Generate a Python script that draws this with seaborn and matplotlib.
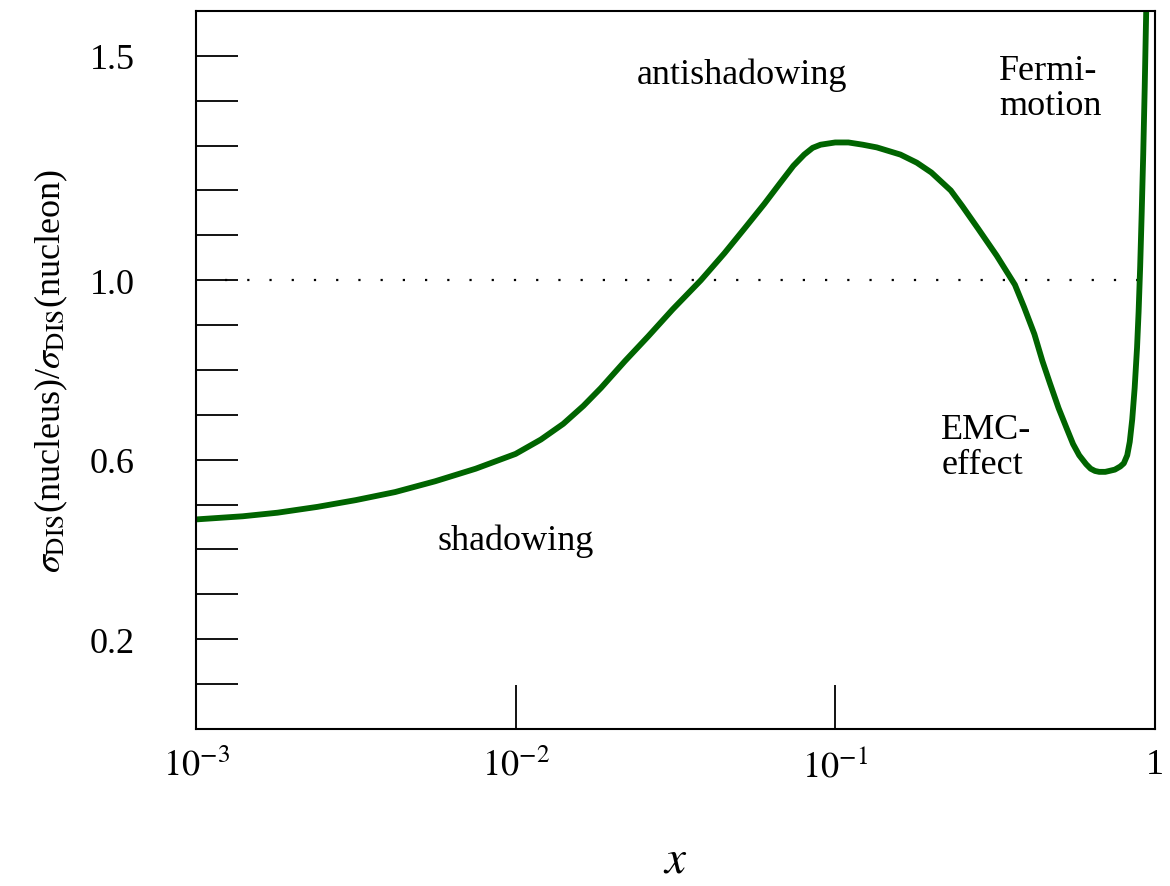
import numpy as np
import seaborn as sns
import matplotlib.pyplot as plt
import pandas as pd
from matplotlib.ticker import FixedLocator, NullLocator

# values
x_vals = [0.001, 0.0014, 0.0018, 0.0024, 0.00316, 0.0042, 0.0056, 0.0075, 0.01, 0.012,
          0.0141, 0.0163, 0.0185, 0.022, 0.026, 0.031, 0.038, 0.045, 0.052, 0.06,
          0.067, 0.074, 0.08, 0.085, 0.09, 0.1, 0.11, 0.122, 0.135, 0.16, 0.18, 0.2,
          0.23, 0.25, 0.28, 0.32, 0.365, 0.39, 0.42, 0.445, 0.47, 0.5, 0.53, 0.555,
          0.58, 0.61, 0.63, 0.65, 0.67, 0.7, 0.72, 0.75, 0.78, 0.8, 0.82, 0.835,
          0.85, 0.865, 0.88, 0.89, 0.9, 0.91, 0.92, 0.93, 0.94]
ratio = [0.467, 0.474, 0.482, 0.495, 0.51, 0.528, 0.552, 0.58, 0.613, 0.645,
         0.68, 0.72, 0.76, 0.82, 0.875, 0.935, 1.0, 1.06, 1.115, 1.17,
         1.215, 1.255, 1.28, 1.295, 1.302, 1.307, 1.307, 1.302, 1.296, 1.28, 1.262, 1.24,
         1.2, 1.165, 1.115, 1.055, 0.99, 0.94, 0.88, 0.82, 0.77, 0.715, 0.67, 0.635,
         0.61, 0.59, 0.58, 0.575, 0.573, 0.573, 0.575, 0.578, 0.585, 0.592, 0.61, 0.64,
         0.69, 0.76, 0.85, 0.93, 1.03, 1.15, 1.28, 1.43, 1.6]

df = pd.DataFrame({"x": x_vals, "r": ratio})

sns.set_style("ticks")
plt.rcParams['font.family'] = ['Liberation Serif', 'DejaVu Serif']
plt.rcParams['mathtext.fontset'] = 'stix'
plt.rcParams['text.color'] = 'black'
plt.rcParams['xtick.color'] = 'black'
plt.rcParams['ytick.color'] = 'black'
plt.rcParams['axes.labelcolor'] = 'black'
plt.rcParams['axes.edgecolor'] = 'black'

fig = plt.figure(figsize=(11.7, 8.87), dpi=100)
ax = fig.add_axes([0.1675, 0.177, 0.8195, 0.8095])

ax.axhline(1.0, xmin=0.03, color='black', ls=(0, (1, 9)), lw=1.6)
sns.lineplot(data=df, x="x", y="r", ax=ax, color='#006400', lw=4.2)

ax.set_xscale('log')
ax.set_xlim(1e-3, 1)
ax.set_ylim(0, 1.6)
ax.xaxis.set_major_locator(FixedLocator([1e-3, 1e-2, 1e-1, 1]))
ax.xaxis.set_minor_locator(NullLocator())
ax.set_xticklabels([r'$10^{-3}$', r'$10^{-2}$', r'$10^{-1}$', '1'])
ax.yaxis.set_major_locator(FixedLocator([0.2, 0.6, 1.0, 1.5]))
ax.yaxis.set_minor_locator(FixedLocator(np.arange(0.1, 1.61, 0.1)))
ax.set_yticklabels(['0.2', '0.6', '1.0', '1.5'])

ax.tick_params(axis='x', which='major', direction='in', length=32, width=1.3,
               labelsize=26, pad=14, top=False)
ax.tick_params(axis='y', which='major', direction='in', length=30, width=1.3,
               labelsize=26, pad=44, right=False)
ax.tick_params(axis='y', which='minor', direction='in', length=30, width=1.3, right=False)
for s in ax.spines.values():
    s.set_linewidth(1.5)

ax.set_xlabel(r'$x$', fontsize=34, labelpad=40)
ax.set_ylabel(r'$\sigma_{\rm DIS}$(nucleus)/$\sigma_{\rm DIS}$(nucleon)', fontsize=26, labelpad=14)

ax.text(0.0057, 0.4, 'shadowing', fontsize=26)
ax.text(0.024, 1.44, 'antishadowing', fontsize=26)
ax.text(0.215, 0.57, 'EMC-\neffect', fontsize=26, linespacing=1.1)
ax.text(0.325, 1.37, 'Fermi-\nmotion', fontsize=26, linespacing=1.1)

fig.savefig('out.png', dpi=100)
